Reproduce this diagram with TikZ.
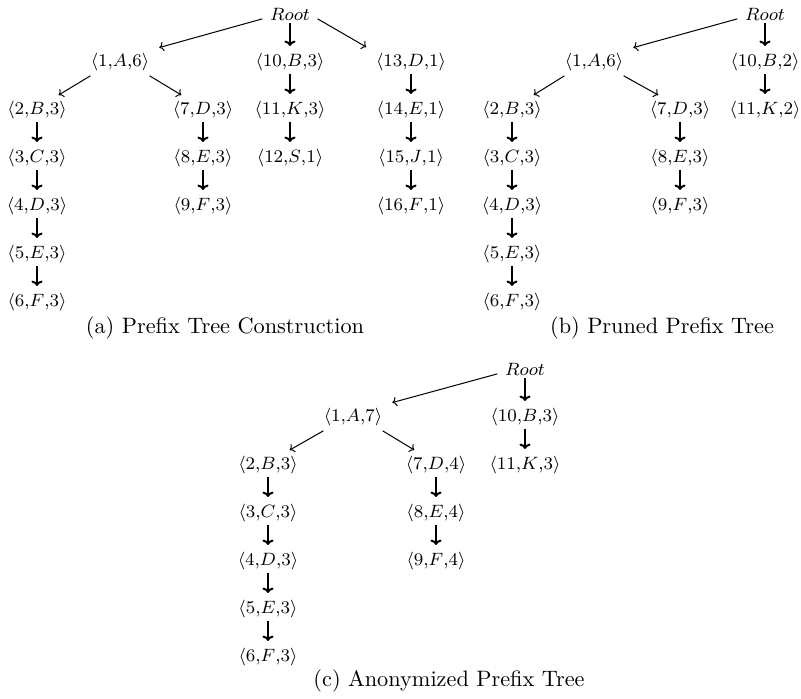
\documentclass[tikz,border=0pt]{standalone}
\usepackage{amssymb,amsmath}
\usepackage{tikz}
\usetikzlibrary{arrows.meta,positioning}

\tikzset{
  vert/.style={line width=0.9pt,shorten <=-1pt,-{To[length=2.4pt,width=5pt]}},
  slant/.style={line width=0.45pt,-{To[length=2pt,width=4.2pt]}},
  subcaption/.style={font=\normalsize}
}

\begin{document}
\begin{tikzpicture}[x=0.4484pt,y=-0.4484pt,shorten >=1pt,node distance=21.52pt,on grid,inner ysep=2pt,font=\footnotesize]
\useasboundingbox (0,0) rectangle (801,698);
% (a) prefix tree construction
\node (r_a) at (290,14) {$Root$};
\node (a_1) at (120,62) {$\langle 1{,}A{,}6\rangle$};
\node [below= of r_a] (a_10) {$\langle 10{,}B{,}3\rangle$};
\node (a_13) at (411,62) {$\langle 13{,}D{,}1\rangle$};
\node (a_2) at (37,110) {$\langle 2{,}B{,}3\rangle$};
\node [below= of a_2] (a_3) {$\langle 3{,}C{,}3\rangle$};
\node [below= of a_3] (a_4) {$\langle 4{,}D{,}3\rangle$};
\node [below= of a_4] (a_5) {$\langle 5{,}E{,}3\rangle$};
\node [below= of a_5] (a_6) {$\langle 6{,}F{,}3\rangle$};
\node (a_7) at (203,110) {$\langle 7{,}D{,}3\rangle$};
\node [below= of a_7] (a_8) {$\langle 8{,}E{,}3\rangle$};
\node [below= of a_8] (a_9) {$\langle 9{,}F{,}3\rangle$};
\node [below= of a_10] (a_11) {$\langle 11{,}K{,}3\rangle$};
\node [below= of a_11] (a_12) {$\langle 12{,}S{,}1\rangle$};
\node [below= of a_13] (a_14) {$\langle 14{,}E{,}1\rangle$};
\node [below= of a_14] (a_15) {$\langle 15{,}J{,}1\rangle$};
\node [below= of a_15] (a_16) {$\langle 16{,}F{,}1\rangle$};
\node [subcaption] (cap_a) at (225,328) {(a) Prefix Tree Construction};
\path
  (r_a.190) edge[slant] (a_1.north east)
  (r_a.350) edge[slant] (a_13.north west)
  (a_1.205) edge[slant] (a_2.35)
  (a_1.335) edge[slant] (a_7.145)
  (r_a) edge[vert] (a_10)
  (a_10) edge[vert] (a_11)
  (a_11) edge[vert] (a_12)
  (a_13) edge[vert] (a_14)
  (a_14) edge[vert] (a_15)
  (a_15) edge[vert] (a_16)
  (a_2) edge[vert] (a_3)
  (a_3) edge[vert] (a_4)
  (a_4) edge[vert] (a_5)
  (a_5) edge[vert] (a_6)
  (a_7) edge[vert] (a_8)
  (a_8) edge[vert] (a_9);
% (b) pruned prefix tree
\node (r_b) at (765,14) {$Root$};
\node (b_1) at (594,62) {$\langle 1{,}A{,}6\rangle$};
\node [below= of r_b] (b_10) {$\langle 10{,}B{,}2\rangle$};
\node [below= of b_10] (b_11) {$\langle 11{,}K{,}2\rangle$};
\node (b_2) at (512,110) {$\langle 2{,}B{,}3\rangle$};
\node [below= of b_2] (b_3) {$\langle 3{,}C{,}3\rangle$};
\node [below= of b_3] (b_4) {$\langle 4{,}D{,}3\rangle$};
\node [below= of b_4] (b_5) {$\langle 5{,}E{,}3\rangle$};
\node [below= of b_5] (b_6) {$\langle 6{,}F{,}3\rangle$};
\node (b_7) at (680,110) {$\langle 7{,}D{,}3\rangle$};
\node [below= of b_7] (b_8) {$\langle 8{,}E{,}3\rangle$};
\node [below= of b_8] (b_9) {$\langle 9{,}F{,}3\rangle$};
\node [subcaption] (cap_b) at (662,328) {(b) Pruned Prefix Tree};
\path
  (r_b.190) edge[slant] (b_1.north east)
  (b_1.205) edge[slant] (b_2.35)
  (b_1.335) edge[slant] (b_7.145)
  (r_b) edge[vert] (b_10)
  (b_10) edge[vert] (b_11)
  (b_2) edge[vert] (b_3)
  (b_3) edge[vert] (b_4)
  (b_4) edge[vert] (b_5)
  (b_5) edge[vert] (b_6)
  (b_7) edge[vert] (b_8)
  (b_8) edge[vert] (b_9);
% (c) anonymized prefix tree
\node (r_c) at (525,369) {$Root$};
\node (c_1) at (353,417) {$\langle 1{,}A{,}7\rangle$};
\node [below= of r_c] (c_10) {$\langle 10{,}B{,}3\rangle$};
\node [below= of c_10] (c_11) {$\langle 11{,}K{,}3\rangle$};
\node (c_2) at (268,465) {$\langle 2{,}B{,}3\rangle$};
\node [below= of c_2] (c_3) {$\langle 3{,}C{,}3\rangle$};
\node [below= of c_3] (c_4) {$\langle 4{,}D{,}3\rangle$};
\node [below= of c_4] (c_5) {$\langle 5{,}E{,}3\rangle$};
\node [below= of c_5] (c_6) {$\langle 6{,}F{,}3\rangle$};
\node (c_7) at (436,465) {$\langle 7{,}D{,}4\rangle$};
\node [below= of c_7] (c_8) {$\langle 8{,}E{,}4\rangle$};
\node [below= of c_8] (c_9) {$\langle 9{,}F{,}4\rangle$};
\node [subcaption] (cap_c) at (449,681) {(c) Anonymized Prefix Tree};
\path
  (r_c.190) edge[slant] (c_1.north east)
  (c_1.205) edge[slant] (c_2.35)
  (c_1.335) edge[slant] (c_7.145)
  (r_c) edge[vert] (c_10)
  (c_10) edge[vert] (c_11)
  (c_2) edge[vert] (c_3)
  (c_3) edge[vert] (c_4)
  (c_4) edge[vert] (c_5)
  (c_5) edge[vert] (c_6)
  (c_7) edge[vert] (c_8)
  (c_8) edge[vert] (c_9);
\end{tikzpicture}
\end{document}
